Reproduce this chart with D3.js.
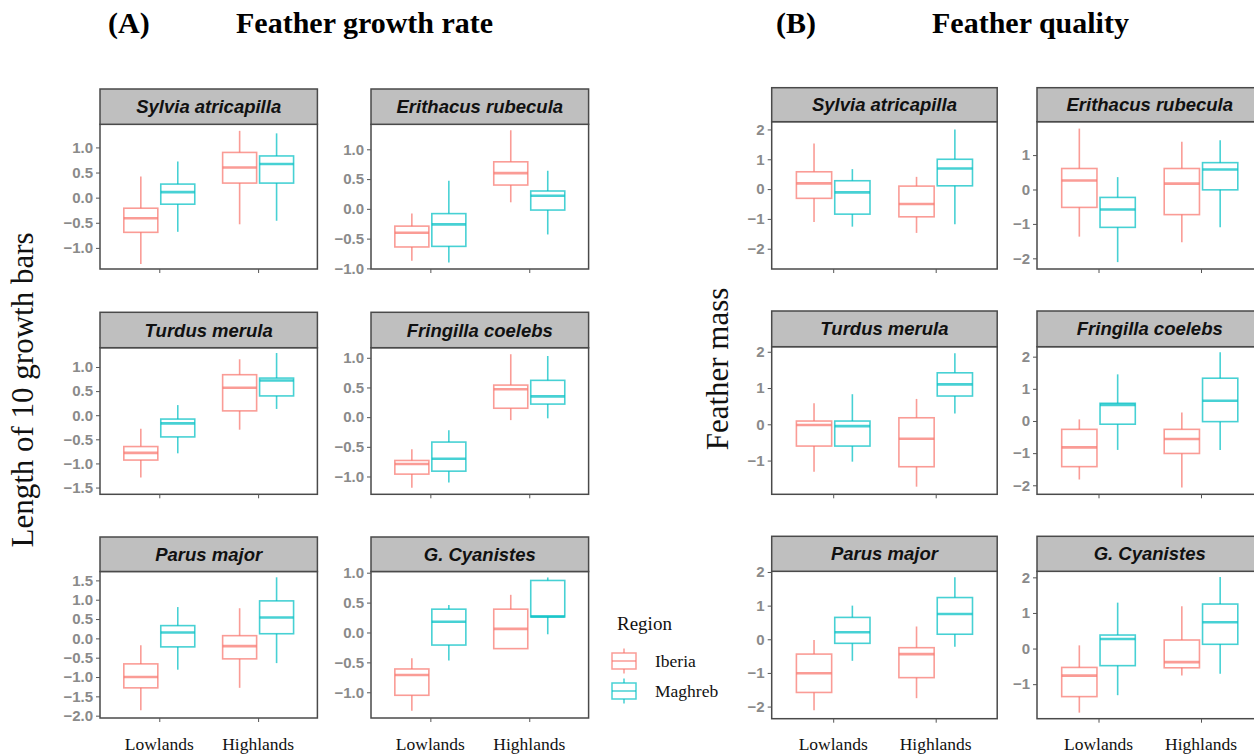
<!DOCTYPE html>
<html>
<head>
<meta charset="utf-8">
<script src="https://cdn.jsdelivr.net/npm/d3@7"></script>
<style>
  body { margin: 0; background: #fff; }
  svg { display: block; }
  .tick text { font-family: "Liberation Sans", Arial, sans-serif; }
</style>
</head>
<body>
<svg id="chart" width="1254" height="755"></svg>
<script>
// ---- data ----
const zones = ["Lowlands", "Highlands"];
const regions = ["Iberia", "Maghreb"];
const regionColors = ["#F8766D", "#00BFC4"];
const species = ["Sylvia atricapilla", "Erithacus rubecula", "Turdus merula",
                 "Fringilla coelebs", "Parus major", "G. Cyanistes"];

// each box: [lower whisker, q1, median, q3, upper whisker]
// order per panel: Lowlands-Iberia, Lowlands-Maghreb, Highlands-Iberia, Highlands-Maghreb
const growthStats = [
  [[-1.32, -0.69, -0.41, -0.21, 0.42], [-0.68, -0.13, 0.11, 0.27, 0.72], [-0.53, 0.29, 0.60, 0.90, 1.33], [-0.46, 0.29, 0.67, 0.83, 1.28]],
  [[-0.87, -0.64, -0.40, -0.29, -0.08], [-0.90, -0.63, -0.26, -0.08, 0.47], [0.11, 0.40, 0.60, 0.79, 1.32], [-0.43, -0.02, 0.22, 0.30, 0.64]],
  [[-1.29, -0.93, -0.78, -0.65, -0.28], [-0.79, -0.45, -0.17, -0.08, 0.21], [-0.30, 0.09, 0.57, 0.84, 1.16], [0.13, 0.40, 0.72, 0.77, 1.29]],
  [[-1.19, -0.96, -0.79, -0.73, -0.54], [-1.10, -0.91, -0.70, -0.42, -0.22], [-0.05, 0.15, 0.47, 0.54, 1.06], [-0.02, 0.22, 0.35, 0.62, 1.03]],
  [[-1.86, -1.28, -1.00, -0.66, -0.18], [-0.81, -0.22, 0.15, 0.33, 0.81], [-1.28, -0.53, -0.20, 0.07, 0.78], [-0.64, 0.12, 0.54, 0.97, 1.58]],
  [[-1.31, -1.05, -0.71, -0.61, -0.43], [-0.47, -0.21, 0.18, 0.39, 0.46], [-0.27, -0.27, 0.06, 0.39, 0.63], [-0.03, 0.26, 0.27, 0.87, 0.92]]
];
const growthLimits = [[-1.42, 1.46], [-1.01, 1.42], [-1.64, 1.40], [-1.30, 1.17], [-2.06, 1.73], [-1.43, 1.02]];

const qualityStats = [
  [[-1.10, -0.31, 0.19, 0.58, 1.53], [-1.26, -0.84, -0.11, 0.28, 0.67], [-1.47, -0.93, -0.50, 0.10, 0.41], [-1.18, 0.11, 0.69, 1.00, 2.00]],
  [[-1.37, -0.52, 0.26, 0.61, 1.77], [-2.11, -1.10, -0.58, -0.23, 0.36], [-1.53, -0.73, 0.17, 0.61, 1.39], [-1.10, -0.01, 0.58, 0.78, 1.43]],
  [[-1.31, -0.60, -0.02, 0.09, 0.58], [-1.03, -0.60, -0.05, 0.09, 0.83], [-1.72, -1.17, -0.40, 0.18, 0.70], [0.30, 0.78, 1.10, 1.42, 1.96]],
  [[-1.82, -1.42, -0.82, -0.26, 0.05], [-0.90, -0.10, 0.50, 0.55, 1.45], [-2.07, -1.01, -0.56, -0.26, 0.26], [-0.90, -0.02, 0.63, 1.33, 2.14]],
  [[-2.11, -1.58, -1.01, -0.44, -0.02], [-0.64, -0.12, 0.21, 0.65, 1.00], [-1.75, -1.14, -0.44, -0.25, 0.38], [-0.22, 0.15, 0.75, 1.24, 1.84]],
  [[-1.80, -1.35, -0.76, -0.53, 0.09], [-1.31, -0.48, 0.27, 0.38, 1.29], [-0.76, -0.54, -0.38, 0.24, 1.19], [-0.71, 0.12, 0.74, 1.25, 2.01]]
];
const qualityLimits = [[-2.68, 2.26], [-2.31, 1.97], [-1.93, 2.14], [-2.28, 2.31], [-2.36, 2.02], [-1.97, 2.17]];

// ---- layout ----
const svg = d3.select("#chart");
const serif = "'Liberation Serif', 'Times New Roman', serif";
const sans = "'Liberation Sans', Arial, sans-serif";

const figures = [
  { label: "(A)", title: "Feather growth rate", labelX: 108, titleX: 236,
    ytitle: "Length of 10 growth bars", ytitleX: 33, ytitleY: 390,
    stats: growthStats, limits: growthLimits, step: 0.5, fmt: d3.format(".1f"),
    cols: [[100, 317.4], [371, 588.6]],
    rows: [[89, 124.3, 269], [312.3, 347.7, 494.3], [537, 571.5, 718]] },
  { label: "(B)", title: "Feather quality", labelX: 776, titleX: 932,
    ytitle: "Feather mass", ytitleX: 728, ytitleY: 369,
    stats: qualityStats, limits: qualityLimits, step: 1, fmt: d3.format("d"),
    cols: [[771.7, 997.2], [1037, 1262.5]],
    rows: [[87.7, 121.7, 269], [311, 346.7, 494.3], [536.3, 571.3, 718.7]] }
];

function drawPanel(g, fig, i) {
  const [x0, x1] = fig.cols[i % 2];
  const [sTop, sBot, bottom] = fig.rows[Math.floor(i / 2)];
  const lim = fig.limits[i];

  const x = d3.scalePoint().domain(zones).range([x0, x1]).padding(0.6);
  const y = d3.scaleLinear().domain(lim).range([bottom, sBot]);
  const unit = x.step();
  const off = 0.187 * unit, bw = 0.344 * unit;

  g.append("rect").attr("x", x0).attr("y", sBot).attr("width", x1 - x0).attr("height", bottom - sBot)
    .attr("fill", "#fff");

  const boxes = [];
  fig.stats[i].forEach((s, k) => {
    boxes.push({ zone: zones[Math.floor(k / 2)], r: k % 2, s });
  });

  const bx = g.selectAll("g.box").data(boxes).enter().append("g").attr("class", "box")
    .attr("stroke", d => regionColors[d.r])
    .attr("stroke-opacity", 0.72)
    .attr("fill", "none");
  const cx = d => x(d.zone) + (d.r === 0 ? -off : off);
  bx.append("line").attr("x1", cx).attr("x2", cx)
    .attr("y1", d => y(d.s[3])).attr("y2", d => y(d.s[4])).attr("stroke-width", 1.6);
  bx.append("line").attr("x1", cx).attr("x2", cx)
    .attr("y1", d => y(d.s[1])).attr("y2", d => y(d.s[0])).attr("stroke-width", 1.6);
  bx.append("rect").attr("x", d => cx(d) - bw / 2).attr("width", bw)
    .attr("y", d => y(d.s[3])).attr("height", d => Math.max(0.5, y(d.s[1]) - y(d.s[3])))
    .attr("stroke-width", 1.6);
  bx.append("line").attr("x1", d => cx(d) - bw / 2).attr("x2", d => cx(d) + bw / 2)
    .attr("y1", d => y(d.s[2])).attr("y2", d => y(d.s[2])).attr("stroke-width", 2.6);

  // border + strip
  g.append("rect").attr("x", x0).attr("y", sBot).attr("width", x1 - x0).attr("height", bottom - sBot)
    .attr("fill", "none").attr("stroke", "#4a4a4a").attr("stroke-width", 1.5);
  g.append("rect").attr("x", x0).attr("y", sTop).attr("width", x1 - x0).attr("height", sBot - sTop)
    .attr("fill", "#bfbfbf").attr("stroke", "#4a4a4a").attr("stroke-width", 1.5);
  g.append("text").attr("x", (x0 + x1) / 2).attr("y", (sTop + sBot) / 2 + 6.5)
    .attr("text-anchor", "middle").attr("font-family", sans).attr("font-size", 18.5)
    .attr("font-weight", "bold").attr("font-style", "italic").attr("fill", "#111")
    .text(species[i]);

  // axes
  const tv = d3.range(Math.ceil(lim[0] / fig.step - 1e-6), Math.floor(lim[1] / fig.step + 1e-6) + 1)
    .map(v => v * fig.step);
  const ya = g.append("g").attr("transform", `translate(${x0},0)`)
    .call(d3.axisLeft(y).tickValues(tv).tickFormat(fig.fmt).tickSize(4).tickPadding(3));
  ya.select(".domain").remove();
  ya.selectAll("line").attr("stroke", "#555");
  ya.selectAll("text").attr("font-size", 15).attr("font-weight", "bold").attr("fill", "#8a8a8a");

  const xa = g.append("g").attr("transform", `translate(0,${bottom})`)
    .call(d3.axisBottom(x).tickFormat("").tickSize(4));
  xa.select(".domain").remove();
  xa.selectAll("line").attr("stroke", "#555");

  if (i >= 4) {
    g.selectAll("text.zone").data(zones).enter().append("text").attr("class", "zone")
      .attr("x", d => x(d)).attr("y", 750).attr("text-anchor", "middle")
      .attr("font-family", serif).attr("font-size", 17.5).attr("fill", "#111")
      .text(d => d);
  }
}

figures.forEach(fig => {
  const g = svg.append("g");
  g.append("text").attr("x", fig.labelX).attr("y", 33).attr("font-family", serif)
    .attr("font-size", 30).attr("font-weight", "bold").text(fig.label);
  g.append("text").attr("x", fig.titleX).attr("y", 33).attr("font-family", serif)
    .attr("font-size", 30).attr("font-weight", "bold").text(fig.title);
  g.append("text").attr("transform", `translate(${fig.ytitleX},${fig.ytitleY}) rotate(-90)`)
    .attr("text-anchor", "middle").attr("font-family", serif).attr("font-size", 31)
    .attr("fill", "#111").text(fig.ytitle);
  species.forEach((sp, i) => drawPanel(g.append("g"), fig, i));
});

// legend
const lg = svg.append("g").attr("transform", "translate(612,0)");
lg.append("text").attr("x", 5).attr("y", 630).attr("font-family", serif).attr("font-size", 19)
  .attr("fill", "#111").text("Region");
const items = lg.selectAll("g.item").data(regions).enter().append("g").attr("class", "item")
  .attr("transform", (d, k) => `translate(0,${661 + k * 30})`);
items.each(function (d, k) {
  const key = d3.select(this).append("g")
    .attr("stroke", regionColors[k]).attr("stroke-opacity", 0.72).attr("fill", "none");
  key.append("line").attr("x1", 12).attr("x2", 12).attr("y1", -12.5).attr("y2", -8).attr("stroke-width", 1.5);
  key.append("line").attr("x1", 12).attr("x2", 12).attr("y1", 8).attr("y2", 12.5).attr("stroke-width", 1.5);
  key.append("rect").attr("x", 0).attr("y", -8).attr("width", 24).attr("height", 16).attr("stroke-width", 1.5);
  key.append("line").attr("x1", 0).attr("x2", 24).attr("y1", 0).attr("y2", 0).attr("stroke-width", 1.5);
});
items.append("text").attr("x", 43).attr("y", 6).attr("font-family", serif).attr("font-size", 17.5)
  .attr("fill", "#111").text(d => d);
</script>
</body>
</html>
